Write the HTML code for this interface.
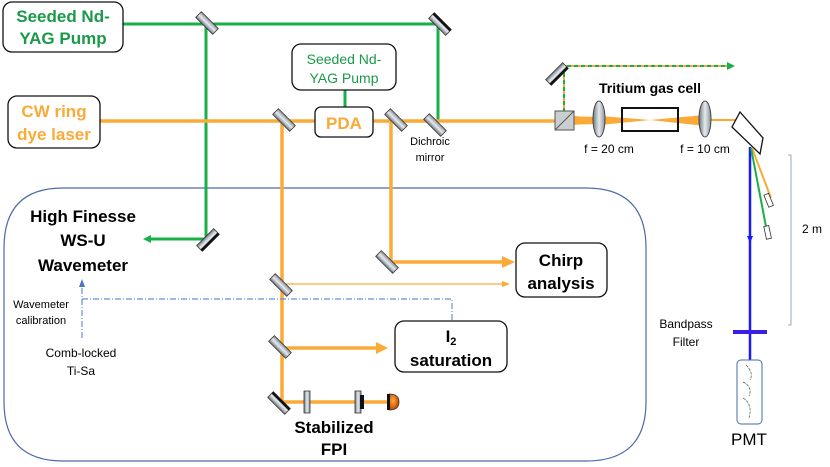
<!DOCTYPE html>
<html><head><meta charset="utf-8"><style>
html,body{margin:0;padding:0;background:#fff;}
svg{display:block;font-family:"Liberation Sans",sans-serif;}
</style></head><body>
<svg width="830" height="467" viewBox="0 0 830 467" xmlns="http://www.w3.org/2000/svg">
<defs>
<linearGradient id="mg" x1="0" x2="1"><stop offset="0" stop-color="#6f7a82"/><stop offset="0.5" stop-color="#e6eaee"/><stop offset="1" stop-color="#8a949c"/></linearGradient>
<radialGradient id="det" cx="0.4" cy="0.4" r="0.7"><stop offset="0" stop-color="#ffb030"/><stop offset="1" stop-color="#c03000"/></radialGradient>
<g id="mir"><rect x="-4" y="-12" width="8" height="24" fill="url(#mg)" stroke="#333" stroke-width="0.8"/></g>
<g id="mirb"><rect x="-4" y="-12" width="8" height="24" fill="url(#mg)" stroke="#333" stroke-width="0.8"/><rect x="1.5" y="-12" width="2.5" height="24" fill="#111"/></g>
</defs>

<!-- panel -->
<path d="M63,188 H586 Q646,188 646,248 V402 Q646,461 586,461 H63 Q4,461 4,402 V248 Q4,188 63,188 Z" fill="none" stroke="#4a6aa8" stroke-width="1.2"/>

<!-- green beams -->
<g stroke="#19b04a" stroke-width="3" fill="none">
<path d="M123,24 H438 V120"/>
<path d="M206,24 V239 H150"/>
<path d="M345,90 V107"/>
</g>
<polygon points="143,239 151,235 151,243" fill="#19b04a"/>

<!-- orange beams -->
<g stroke="#fbaa38" stroke-width="3.5" fill="none">
<path d="M100,121 H315"/>
<path d="M373,121 H555"/>
<path d="M282,121 V402 H396"/>
<path d="M282,348 H378"/>
<path d="M391,121 V262 H505"/>
</g>
<path d="M282,284 H505" stroke="#fbaa38" stroke-width="1.2"/>
<polygon points="510,284 502,281 502,287" fill="#fbaa38"/>
<polygon points="515,262 502,256 502,268" fill="#fbaa38"/>
<polygon points="388,348 376,342 376,354" fill="#fbaa38"/>
<polygon points="397,402 387,397 387,407" fill="#fbaa38"/>
<!-- focused beam -->
<polygon points="574,116 622,120 574,125" fill="#fbaa38"/>
<polygon points="555,116 600,117 600,124 555,125" fill="#fbaa38"/>
<polygon points="600,116 650,120 600,125" fill="#fbaa38"/>
<polygon points="650,120 705,115 705,126" fill="#fbaa38"/>
<path d="M705,120 H738" stroke="#fbaa38" stroke-width="2"/>

<!-- dash-dot blue -->
<path d="M82,299 H452 V321" stroke="#6a8fd8" stroke-width="1.2" stroke-dasharray="6,2,1,2" fill="none"/>
<path d="M82,338 V286" stroke="#6a8fd8" stroke-width="1.2" stroke-dasharray="6,2,1,2" fill="none"/>
<polygon points="82,279 79,287 85,287" fill="#4a72c8"/>

<!-- dashed to right -->
<path d="M564,112 V66 H728" stroke="#fbaa38" stroke-width="2" fill="none"/>
<path d="M564,112 V66 H728" stroke="#19b04a" stroke-width="2" stroke-dasharray="4,3" fill="none"/>
<polygon points="735,66 727,62 727,70" fill="#19b04a"/>

<!-- mirrors -->
<use href="#mir" transform="translate(207,23) rotate(-45)"/>
<use href="#mirb" transform="translate(440,24) rotate(-45)"/>
<use href="#mirb" transform="translate(208,240) rotate(45)"/>
<use href="#mir" transform="translate(284,120) rotate(-45)"/>
<use href="#mir" transform="translate(396,120) rotate(-45)"/>
<use href="#mir" transform="translate(435,125) rotate(-45)"/>
<use href="#mir" transform="translate(387,262) rotate(-45)"/>
<use href="#mir" transform="translate(281,285) rotate(-45)"/>
<use href="#mir" transform="translate(280,347) rotate(-45)"/>
<use href="#mirb" transform="translate(279,403) rotate(-45)"/>
<use href="#mirb" transform="translate(557,74) rotate(45)"/>

<!-- FPI optics -->
<rect x="304" y="391" width="6" height="22" fill="url(#mg)" stroke="#333" stroke-width="0.8"/>
<rect x="355" y="391" width="6" height="22" fill="url(#mg)" stroke="#333" stroke-width="0.8"/>
<rect x="360" y="395" width="4" height="14" fill="#111"/>
<path d="M389,394 Q399,394 399,402 Q399,410 389,410 Z" fill="url(#det)" stroke="#333" stroke-width="0.8"/>
<rect x="387" y="394" width="3" height="16" fill="#111"/>

<!-- cube, lenses, cell -->
<rect x="555" y="111" width="19" height="19" fill="#c9ced3" stroke="#555" stroke-width="1"/>
<line x1="555" y1="130" x2="574" y2="111" stroke="#555"/>
<ellipse cx="599" cy="119" rx="6" ry="18" fill="url(#mg)" stroke="#444" stroke-width="1"/>
<rect x="622" y="108" width="56" height="23" fill="none" stroke="#111" stroke-width="2"/>
<ellipse cx="705" cy="119" rx="6" ry="18" fill="url(#mg)" stroke="#444" stroke-width="1"/>
<!-- prism -->
<polygon points="740,112 763,138 760,154 732,127" fill="#fff" stroke="#111" stroke-width="1.3"/>
<!-- dispersed beams -->
<path d="M750,147 V362" stroke="#1a1aff" stroke-width="2.5"/>
<polygon points="750,243 747,236 753,236" fill="#1a1aff"/>
<path d="M752,148 L771,198" stroke="#fbaa38" stroke-width="2"/>
<path d="M751,148 L767,232" stroke="#19b04a" stroke-width="2"/>
<rect x="766" y="194" width="5" height="13" fill="#fff" stroke="#333" stroke-width="0.8" transform="rotate(-22 768 200)"/>
<rect x="765" y="226" width="5" height="13" fill="#fff" stroke="#333" stroke-width="0.8" transform="rotate(-12 767 232)"/>
<path d="M788,155 H791 V325 H788" stroke="#9ab" stroke-width="1" fill="none"/>
<text x="802" y="233" font-size="12">2 m</text>
<!-- filter, PMT -->
<rect x="733" y="330" width="34" height="4" fill="#3a1fe8"/>
<rect x="737" y="360" width="25" height="64" rx="4" fill="#fff" stroke="#4a6aa8" stroke-width="1"/>
<path d="M746,365 q8,8 4,15 M743,382 q10,5 6,14 M743,398 q10,6 6,20" stroke="#555" stroke-width="0.7" fill="none" stroke-dasharray="3,1"/>
<text x="749" y="445" font-size="17" text-anchor="middle">PMT</text>
<text x="686" y="328" font-size="12" text-anchor="middle">Bandpass</text>
<text x="686" y="346" font-size="12" text-anchor="middle">Filter</text>

<!-- boxes -->
<rect x="3" y="2" width="120" height="50" rx="9" fill="#fff" stroke="#111" stroke-width="1.3"/>
<text x="63" y="22" font-size="17" font-weight="bold" fill="#1a9a48" text-anchor="middle">Seeded Nd-</text>
<text x="63" y="44" font-size="17" font-weight="bold" fill="#1a9a48" text-anchor="middle">YAG Pump</text>
<rect x="8" y="96" width="92" height="52" rx="9" fill="#fff" stroke="#111" stroke-width="1.3"/>
<text x="54" y="117" font-size="17" font-weight="bold" fill="#fbaa38" text-anchor="middle">CW ring</text>
<text x="54" y="140" font-size="17" font-weight="bold" fill="#fbaa38" text-anchor="middle">dye laser</text>
<rect x="292" y="44" width="104" height="46" rx="9" fill="#fff" stroke="#111" stroke-width="1.3"/>
<text x="344" y="64" font-size="14" fill="#1a9a48" text-anchor="middle">Seeded Nd-</text>
<text x="344" y="83" font-size="14" fill="#1a9a48" text-anchor="middle">YAG Pump</text>
<rect x="315" y="107" width="58" height="30" rx="6" fill="#fff" stroke="#111" stroke-width="1.3"/>
<text x="344" y="129" font-size="17" font-weight="bold" fill="#fbaa38" text-anchor="middle">PDA</text>
<rect x="516" y="243" width="91" height="54" rx="9" fill="#fff" stroke="#111" stroke-width="1.3"/>
<text x="561" y="266" font-size="17" font-weight="bold" text-anchor="middle">Chirp</text>
<text x="561" y="289" font-size="17" font-weight="bold" text-anchor="middle">analysis</text>
<rect x="395" y="321" width="112" height="51" rx="9" fill="#fff" stroke="#111" stroke-width="1.3"/>
<text x="451" y="342" font-size="17" font-weight="bold" text-anchor="middle">I<tspan font-size="11" dy="3">2</tspan></text>
<text x="451" y="366" font-size="17" font-weight="bold" text-anchor="middle">saturation</text>

<!-- labels -->
<text x="83" y="222" font-size="17" font-weight="bold" text-anchor="middle">High Finesse</text>
<text x="83" y="246" font-size="17" font-weight="bold" text-anchor="middle">WS-U</text>
<text x="83" y="271" font-size="17" font-weight="bold" text-anchor="middle">Wavemeter</text>
<text x="41" y="308" font-size="11" text-anchor="middle">Wavemeter</text>
<text x="41" y="324" font-size="11" text-anchor="middle">calibration</text>
<text x="81" y="357" font-size="12" text-anchor="middle">Comb-locked</text>
<text x="81" y="375" font-size="12" text-anchor="middle">Ti-Sa</text>
<text x="334" y="433" font-size="17" font-weight="bold" text-anchor="middle">Stabilized</text>
<text x="334" y="455" font-size="17" font-weight="bold" text-anchor="middle">FPI</text>
<text x="430" y="145" font-size="11" text-anchor="middle">Dichroic</text>
<text x="430" y="161" font-size="11" text-anchor="middle">mirror</text>
<text x="650" y="93" font-size="14" font-weight="bold" text-anchor="middle">Tritium gas cell</text>
<text x="609" y="153" font-size="12" text-anchor="middle">f = 20 cm</text>
<text x="705" y="153" font-size="12" text-anchor="middle">f = 10 cm</text>
</svg>
</body></html>
